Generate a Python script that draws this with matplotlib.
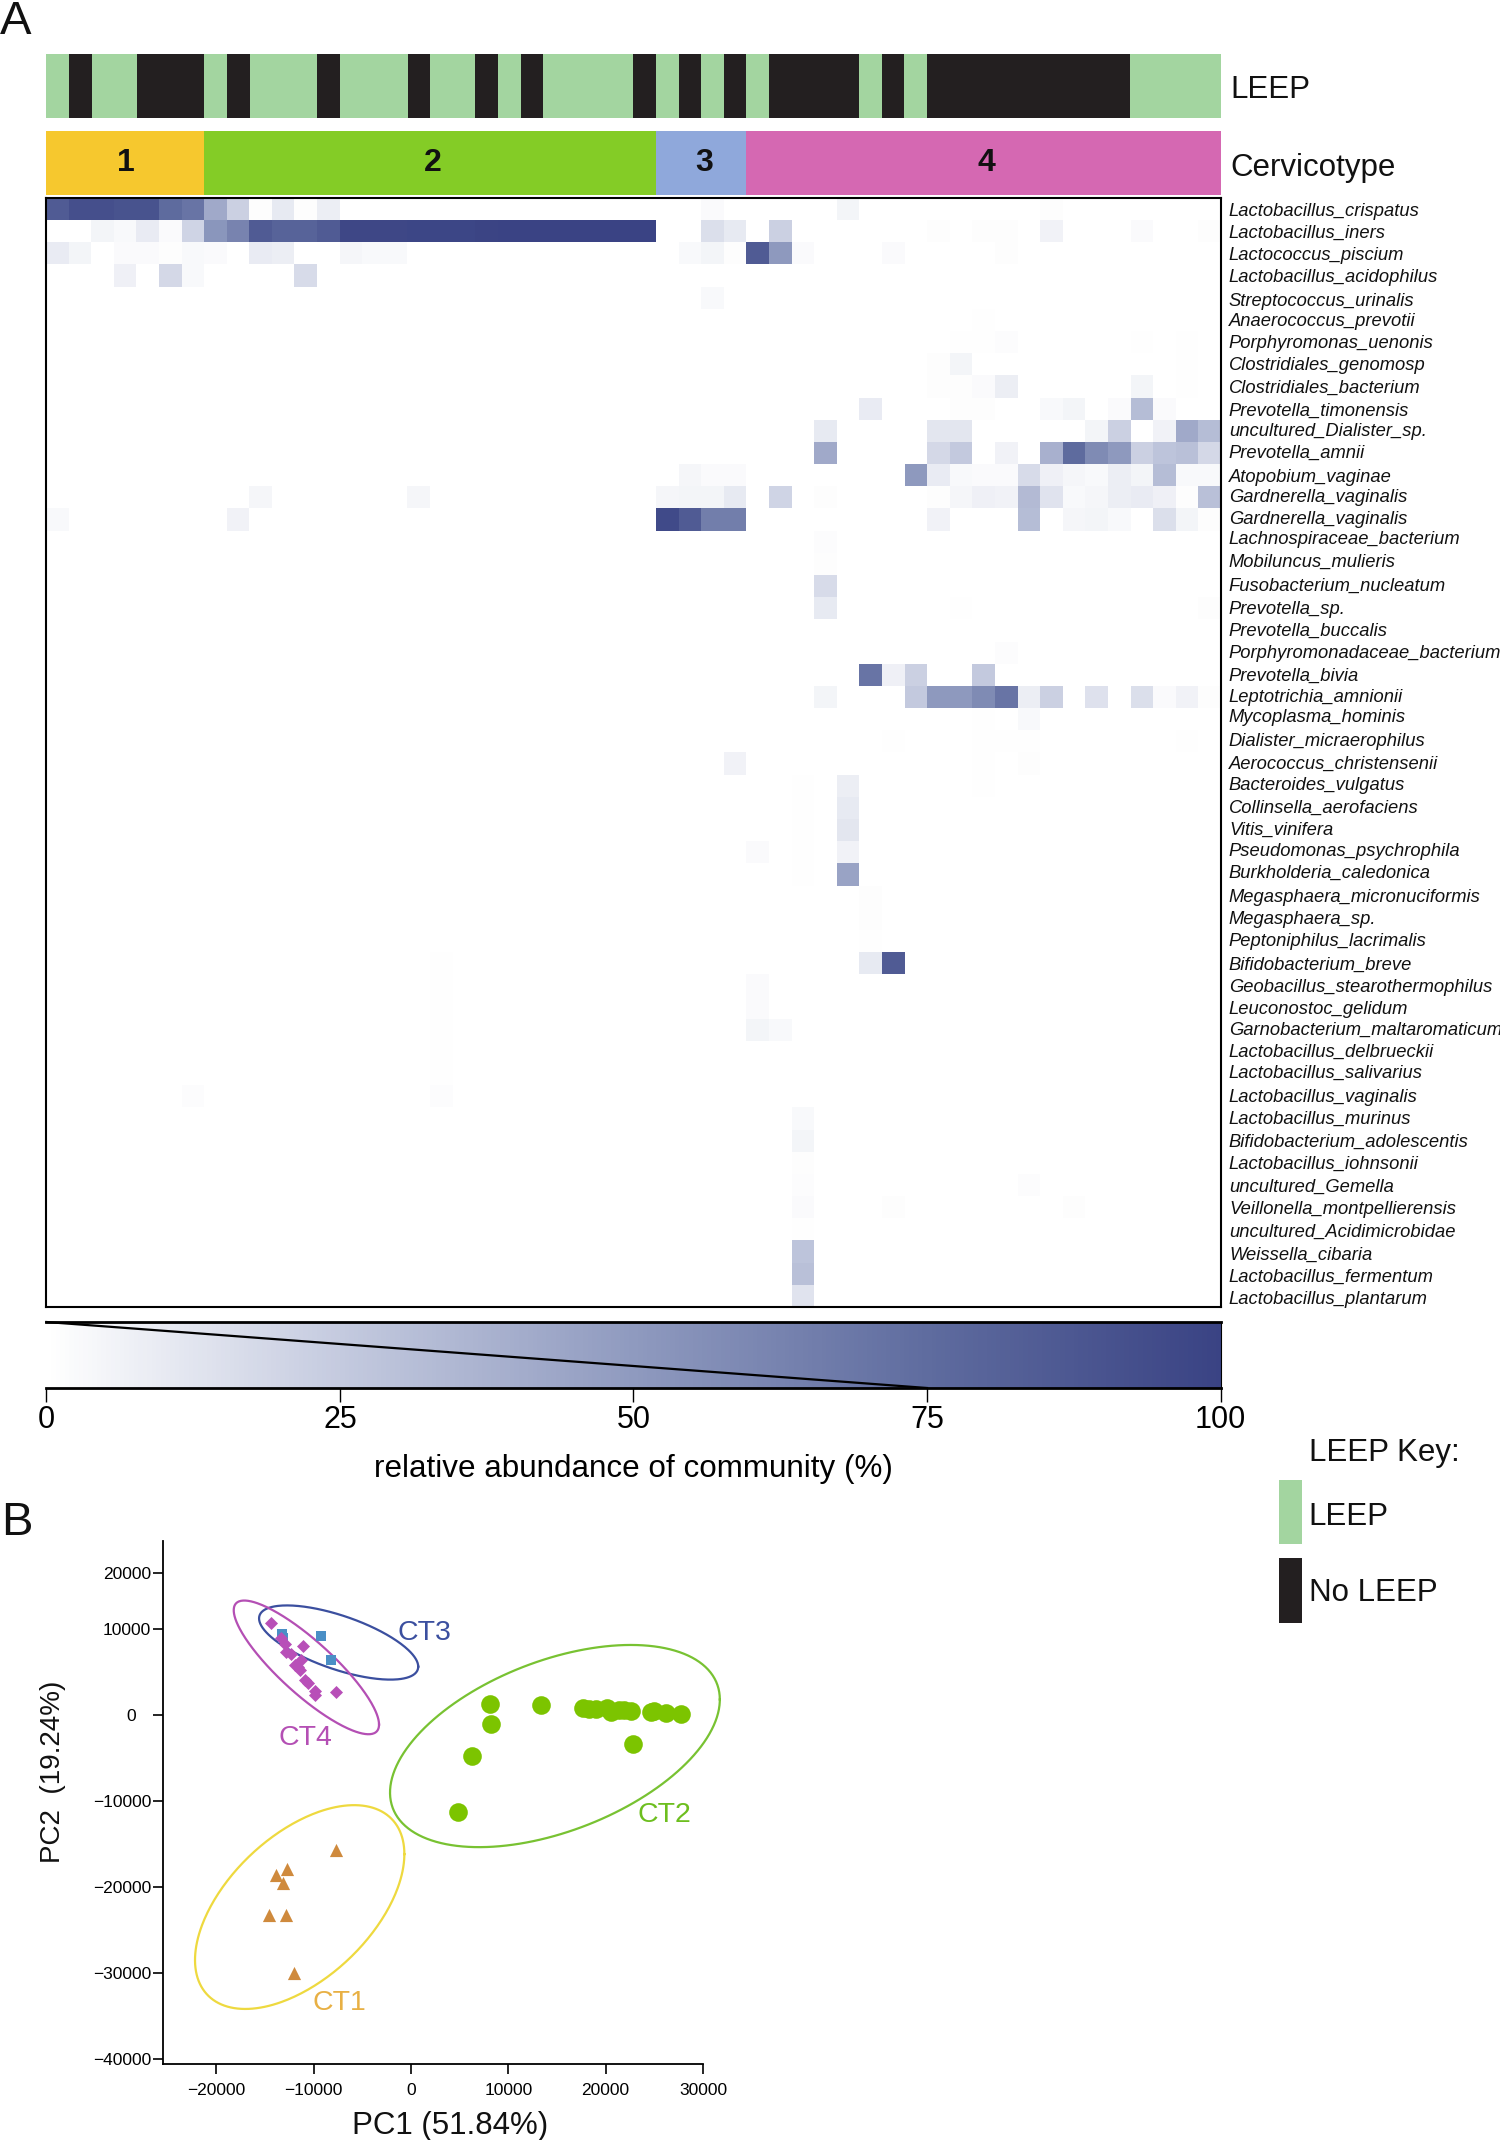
import numpy as np
from matplotlib import pyplot as plt
from matplotlib.colors import LinearSegmentedColormap
from matplotlib.transforms import ScaledTranslation

plt.rcParams["font.family"] = ["Liberation Sans", "DejaVu Sans"]

W, H = 1500, 2140

species = [
    "Lactobacillus_crispatus", "Lactobacillus_iners", "Lactococcus_piscium", "Lactobacillus_acidophilus",
    "Streptococcus_urinalis", "Anaerococcus_prevotii", "Porphyromonas_uenonis", "Clostridiales_genomosp",
    "Clostridiales_bacterium", "Prevotella_timonensis", "uncultured_Dialister_sp.", "Prevotella_amnii",
    "Atopobium_vaginae", "Gardnerella_vaginalis", "Gardnerella_vaginalis", "Lachnospiraceae_bacterium",
    "Mobiluncus_mulieris", "Fusobacterium_nucleatum", "Prevotella_sp.", "Prevotella_buccalis",
    "Porphyromonadaceae_bacterium", "Prevotella_bivia", "Leptotrichia_amnionii", "Mycoplasma_hominis",
    "Dialister_micraerophilus", "Aerococcus_christensenii", "Bacteroides_vulgatus", "Collinsella_aerofaciens",
    "Vitis_vinifera", "Pseudomonas_psychrophila", "Burkholderia_caledonica", "Megasphaera_micronuciformis",
    "Megasphaera_sp.", "Peptoniphilus_lacrimalis", "Bifidobacterium_breve", "Geobacillus_stearothermophilus",
    "Leuconostoc_gelidum", "Garnobacterium_maltaromaticum", "Lactobacillus_delbrueckii", "Lactobacillus_salivarius",
    "Lactobacillus_vaginalis", "Lactobacillus_murinus", "Bifidobacterium_adolescentis", "Lactobacillus_iohnsonii",
    "uncultured_Gemella", "Veillonella_montpellierensis", "uncultured_Acidimicrobidae", "Weissella_cibaria",
    "Lactobacillus_fermentum", "Lactobacillus_plantarum",
]
# the labels are not evenly spaced in the original, pixel heights read off the picture
species_label_px = [209, 231, 254, 276, 299, 319, 341, 364, 386, 409, 430, 451, 475, 496, 517, 537, 560, 584, 607, 629,
                    652, 674, 696, 716, 739, 762, 784, 806, 828, 850, 871, 895, 918, 940, 963, 986, 1008, 1028, 1050,
                    1071, 1095, 1117, 1140, 1162, 1185, 1208, 1230, 1253, 1275, 1297]

# 0 = LEEP, 1 = no LEEP, one per sample
leep_status = [0, 1, 0, 0, 1, 1, 1, 0, 1, 0, 0, 0, 1, 0, 0, 0, 1, 0, 0, 1, 0, 1, 0, 0, 0, 0,
               1, 0, 1, 0, 1, 0, 1, 1, 1, 1, 0, 1, 0, 1, 1, 1, 1, 1, 1, 1, 1, 1, 0, 0, 0, 0]
leep_colors = ["#a3d5a0", "#231f20"]

cervicotype_names = ["1", "2", "3", "4"]
cervicotype_sizes = [7, 20, 4, 21]
cervicotype_colors = ["#f6c82e", "#84cc26", "#8fa8db", "#d568b2"]

# abundance in percent, species row -> {sample column: value}, everything else is 0
abundance_cells = {
    0: {0: 85, 1: 92, 2: 92, 3: 90, 4: 90, 5: 75, 6: 70, 7: 42, 8: 22, 9: 1, 10: 10, 11: 1, 12: 8, 29: 2, 35: 5, 44: 1},
    1: {2: 5, 3: 3, 4: 9, 5: 2, 6: 20, 7: 52, 8: 62, 9: 85, 10: 80, 11: 80, 12: 85, 13: 97, 14: 97, 15: 97, 16: 98,
        17: 98, 18: 98, 19: 99, 20: 100, 21: 100, 22: 100, 23: 100, 24: 100, 25: 100, 26: 100, 29: 15, 30: 10, 32: 22,
        39: 1, 41: 1, 42: 1, 44: 6, 48: 2, 51: 1},
    2: {0: 9, 1: 5, 3: 2, 4: 2, 5: 1, 6: 3, 7: 2, 9: 9, 10: 8, 13: 4, 14: 3, 15: 3, 28: 3, 29: 5, 30: 1, 31: 85, 32: 50,
        33: 2, 37: 2, 42: 1},
    3: {3: 7, 5: 18, 6: 3, 11: 17},
    4: {29: 3},
    5: {8: 0.3, 41: 0.5},
    6: {40: 0.5, 41: 0.5, 42: 1.5, 48: 0.5, 50: 0.5},
    7: {39: 1, 40: 5, 50: 0.5},
    8: {39: 1, 40: 1, 41: 2, 42: 8, 48: 5, 50: 0.5},
    9: {36: 9, 40: 1, 41: 1, 44: 3, 45: 5, 47: 2, 48: 32, 49: 2},
    10: {34: 10, 39: 12, 40: 12, 46: 5, 47: 22, 49: 6, 50: 42, 51: 32},
    11: {34: 42, 39: 18, 40: 25, 42: 6, 44: 38, 45: 75, 46: 58, 47: 50, 48: 22, 49: 28, 50: 30, 51: 18},
    12: {28: 4, 29: 2, 30: 2, 38: 50, 39: 9, 40: 3, 41: 2, 42: 2, 43: 17, 44: 7, 45: 4, 46: 3, 47: 8, 48: 5, 49: 32,
         50: 3, 51: 3},
    13: {9: 4, 16: 4, 27: 4, 28: 5, 29: 5, 30: 10, 32: 20, 34: 1, 39: 1, 40: 4, 41: 7, 42: 6, 43: 33, 44: 13, 45: 3,
         46: 4, 47: 8, 48: 9, 49: 7, 50: 1, 51: 30},
    14: {0: 3, 8: 6, 27: 95, 28: 85, 29: 65, 30: 65, 39: 6, 43: 32, 45: 4, 46: 5, 47: 3, 49: 15, 50: 5, 51: 1},
    15: {34: 1.5},
    16: {34: 1},
    17: {34: 17},
    18: {34: 10, 40: 0.5, 51: 1},
    20: {42: 1.5},
    21: {36: 70, 37: 7, 38: 22, 41: 25},
    22: {34: 5, 38: 25, 39: 50, 40: 50, 41: 58, 42: 70, 43: 8, 44: 22, 46: 14, 48: 15, 49: 2, 50: 6, 51: 1},
    23: {41: 0.5, 43: 3},
    24: {30: 0.3, 37: 0.5, 41: 0.5, 42: 0.5, 43: 0.5, 50: 0.5},
    25: {30: 6, 41: 0.5, 43: 1},
    26: {33: 0.5, 35: 8, 41: 0.5},
    27: {33: 0.5, 35: 10},
    28: {33: 0.5, 35: 12},
    29: {31: 2, 33: 0.5, 35: 6},
    30: {33: 0.5, 35: 45},
    31: {36: 1},
    32: {36: 1},
    33: {36: 0.5},
    34: {17: 0.4, 36: 10, 37: 85},
    35: {17: 0.4, 31: 2},
    36: {17: 0.4, 31: 2},
    37: {17: 0.4, 31: 5, 32: 3},
    38: {17: 0.4},
    39: {17: 0.4},
    40: {6: 1.5, 17: 1.5},
    41: {33: 3},
    42: {33: 5},
    43: {33: 1},
    44: {33: 1.5, 43: 1.5},
    45: {33: 2, 37: 1, 45: 1},
    46: {33: 0.5},
    47: {33: 28},
    48: {33: 30},
    49: {33: 13},
}

scale_ticks = [0, 25, 50, 75, 100]
heat_colors = ["#ffffff", "#c4cadf", "#8f9abf", "#5f6c9f", "#3a4384"]

ct1_x = [-7711, -12721, -13900, -13163, -14587, -12819, -12033]
ct1_y = [-15687, -17915, -18626, -19573, -23270, -23270, -30000]
ct2_x = [8153, 13310, 8251, 6287, 4813, 22790, 17633, 18320, 18959, 20088, 20530, 21415, 21906, 22642, 24607,
         25000, 26228, 27701]
ct2_y = [1280, 1137, -995, -4787, -11327, -3318, 806, 758, 664, 806, 332, 569, 569, 474, 332, 427, 237, 142]
ct3_x = [-13261, -13114, -9283, -8202]
ct3_y = [9479, 9005, 9194, 6398]
ct4_x = [-14342, -13360, -12967, -11149, -12819, -12377, -11346, -11886, -11640, -11395, -10904, -10609, -9921,
         -9872, -7662]
ct4_y = [10664, 9005, 8246, 8057, 7346, 7062, 6351, 5877, 5640, 5213, 4123, 3697, 2844, 2322, 2701]

# center x, center y, half width, half height, correlation
ct1_ellipse = (-11444, -22322, 10756, 11848, 0.52)
ct2_ellipse = (14784, -3602, 16945, 11754, 0.46)
ct3_ellipse = (-7441, 8436, 8178, 4313, -0.65)
ct4_ellipse = (-10756, 5545, 7466, 7773, -0.855)

pc_xticks = [-20000, -10000, 0, 10000, 20000, 30000]
# the 20000 tick of the original axis does not sit at its linear position
pc_yticks = [-40000, -30000, -20000, -10000, 0, 10000, 16540]
pc_yticklabels = ["\u221240000", "\u221230000", "\u221220000", "\u221210000", "0", "10000", "20000"]


def add_box(fig, left, top, right, bottom):
    return fig.add_axes([left / W, 1 - bottom / H, (right - left) / W, (bottom - top) / H])


def draw_ellipse(ax, params, color):
    cx, cy, a, b, rho = params
    t = np.linspace(0, 2 * np.pi, 300)
    ax.plot(cx + a * np.cos(t), cy + b * np.cos(t - np.arccos(rho)), color=color, lw=1.6, zorder=1, clip_on=False)


fig = plt.figure(figsize=(W / 100, H / 100), dpi=100)
LEFT, RIGHT = 46.4, 1220.6
HEAT_TOP, HEAT_BOTTOM = 198, 1307
n_samples = len(leep_status)

# LEEP strip
ax_leep = add_box(fig, LEFT, 54, RIGHT, 118)
ax_leep.bar(np.arange(n_samples), 1, width=1, align="edge", color=[leep_colors[s] for s in leep_status])
ax_leep.set_xlim(0, n_samples)
ax_leep.set_ylim(0, 1)
ax_leep.axis("off")
fig.text(1230 / W, 1 - 90 / H, "LEEP", fontsize=22.5, va="center", ha="left", color="#111111")

# cervicotype strip
ax_ct = add_box(fig, LEFT, 131, RIGHT, 195)
start = 0
for name, size, color in zip(cervicotype_names, cervicotype_sizes, cervicotype_colors):
    ax_ct.barh(0, size, left=start, height=1, align="edge", color=color)
    shift = 0.0 if name == "1" else 0.12
    ax_ct.text(start + size / 2 + shift, 0.5, name, fontsize=23, fontweight="bold", ha="center", va="center",
               color="#111111")
    start += size
ax_ct.set_xlim(0, n_samples)
ax_ct.set_ylim(0, 1)
ax_ct.axis("off")
fig.text(1230 / W, 1 - 168 / H, "Cervicotype", fontsize=22.5, va="center", ha="left", color="#111111")

# heatmap
abundance = np.zeros((len(species), n_samples))
for row, cells in abundance_cells.items():
    for col, value in cells.items():
        abundance[row, col] = value

cmap = LinearSegmentedColormap.from_list("abundance", heat_colors)
ax_heat = add_box(fig, LEFT, HEAT_TOP, RIGHT, HEAT_BOTTOM)
image = ax_heat.imshow(abundance, cmap=cmap, vmin=0, vmax=100, aspect="auto", interpolation="nearest")
ax_heat.set_xticks([])
ax_heat.yaxis.tick_right()
row_height = (HEAT_BOTTOM - HEAT_TOP) / len(species)
ax_heat.set_yticks([(y - HEAT_TOP) / row_height - 0.5 for y in species_label_px])
ax_heat.set_yticklabels(species, fontsize=13.2, style="italic", color="#111111")
ax_heat.tick_params(axis="y", length=0, pad=6)
for spine in ax_heat.spines.values():
    spine.set_linewidth(1.5)

# colour scale
ax_scale = add_box(fig, LEFT, 1322, RIGHT, 1388)
cbar = fig.colorbar(image, cax=ax_scale, orientation="horizontal", ticks=scale_ticks)
cbar.outline.set_visible(False)
ax_scale.set_ylim(0, 1)
ax_scale.plot([0, 75], [1, 0], color="black", lw=1.6, clip_on=False)
ax_scale.plot([0, 100], [1, 1], color="black", lw=2, clip_on=False)
ax_scale.plot([0, 100], [0, 0], color="black", lw=2, clip_on=False)
ax_scale.plot([100, 100], [0, 1], color="black", lw=0.8, clip_on=False)
ax_scale.tick_params(axis="x", length=10, width=1, labelsize=22, pad=2)
ax_scale.set_xlabel("relative abundance of community (%)", fontsize=22.6, labelpad=14)

# LEEP key
fig.text(1309 / W, 1 - 1453 / H, "LEEP Key:", fontsize=22.5, va="center", ha="left", color="#111111")
fig.text(1308 / W, 1 - 1517 / H, "LEEP", fontsize=22.5, va="center", ha="left", color="#111111")
fig.text(1309 / W, 1 - 1593 / H, "No LEEP", fontsize=22.5, va="center", ha="left", color="#111111")
ax_key = add_box(fig, 1279, 1480, 1302, 1623)
ax_key.set_xlim(0, 23)
ax_key.set_ylim(1623, 1480)
ax_key.bar(0, 64, width=23, bottom=1480, align="edge", color=leep_colors[0])
ax_key.bar(0, 65, width=23, bottom=1558, align="edge", color=leep_colors[1])
ax_key.axis("off")

# panel letters
fig.text(0, 1 - 34 / H, "A", fontsize=34, va="baseline", ha="left", color="#111111")
fig.text(1 / W, 1 - 1535 / H, "B", fontsize=34, va="baseline", ha="left", color="#111111")

# PCA
ax_pca = add_box(fig, 163, 1541, 703, 2064)
draw_ellipse(ax_pca, ct1_ellipse, "#eed93f")
draw_ellipse(ax_pca, ct2_ellipse, "#78c232")
draw_ellipse(ax_pca, ct3_ellipse, "#3b4f9f")
draw_ellipse(ax_pca, ct4_ellipse, "#b44fb4")
ax_pca.scatter(ct2_x, ct2_y, marker="o", s=180, color="#7cc400", linewidths=0, zorder=2)
ax_pca.scatter(ct3_x, ct3_y, marker="s", s=50, color="#4a8fc6", linewidths=0, zorder=2)
ax_pca.scatter(ct4_x, ct4_y, marker="D", s=44, color="#b84fb8", linewidths=0, zorder=3)
ax_pca.scatter(ct1_x, ct1_y, marker="^", s=90, color="#cf8a3d", linewidths=0, zorder=2)
ax_pca.text(1424, 9600, "CT3", fontsize=20.5, color="#3b4f9f", ha="center", va="center")
ax_pca.text(-10904, -2720, "CT4", fontsize=20.5, color="#b44fb4", ha="center", va="center")
ax_pca.text(26081, -11580, "CT2", fontsize=20.5, color="#6dbe1f", ha="center", va="center")
ax_pca.text(-7318, -33520, "CT1", fontsize=20.5, color="#e8b044", ha="center", va="center")
ax_pca.set_xlim(-25490, 30000)
ax_pca.set_ylim(-40570, 20240)
ax_pca.set_xticks(pc_xticks)
ax_pca.set_yticks(pc_yticks)
ax_pca.set_yticklabels(pc_yticklabels)
ax_pca.spines["top"].set_visible(False)
ax_pca.spines["right"].set_visible(False)
ax_pca.spines["left"].set_linewidth(1.3)
ax_pca.spines["bottom"].set_linewidth(1.3)
ax_pca.tick_params(axis="x", length=7, width=1.2, labelsize=12.5, pad=7)
ax_pca.tick_params(axis="y", length=7, width=1.2, labelsize=12.5, pad=1.5)
# the "0" label stands further left in the original
zero_label = ax_pca.get_yticklabels()[4]
zero_label.set_transform(zero_label.get_transform() + ScaledTranslation(-15 / 100, 0, fig.dpi_scale_trans))
fig.text(450 / W, 1 - 2126 / H, "PC1 (51.84%)", fontsize=22.5, ha="center", va="center", color="#111111")
fig.text(53 / W, 1 - 1772 / H, "PC2  (19.24%)", fontsize=20, ha="center", va="center", rotation=90, color="#111111")

fig.savefig("out.png", dpi=100)
